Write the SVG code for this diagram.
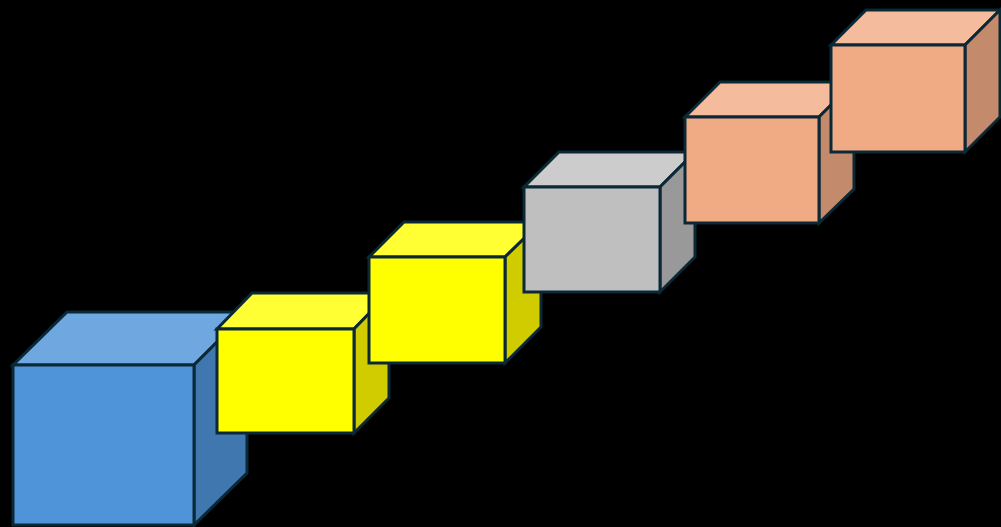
<svg xmlns="http://www.w3.org/2000/svg" width="1001" height="527" viewBox="0 0 1001 527">
<style>
  .e{stroke:#0a2836;stroke-width:3;stroke-linejoin:miter}
  .bF{fill:#4f94d8}.bT{fill:#6fa8e0}.bS{fill:#3f77ae}
  .yF{fill:#ffff00}.yT{fill:#ffff33}.yS{fill:#d0cc00}
  .gF{fill:#bfbfbf}.gT{fill:#cccccc}.gS{fill:#999999}
  .oF{fill:#f0aa84}.oT{fill:#f5bb9d}.oS{fill:#c48a6c}
</style>
<rect width="1001" height="527" fill="#000"/>
<g id="cube-blue">
  <polygon class="e bT" points="13,365 67,312 247,312 194,365"/>
  <polygon class="e bS" points="194,365 247,312 247,473 194,525"/>
  <rect class="e bF" x="13" y="365" width="181" height="160"/>
</g>
<g id="cube-yellow-1">
  <polygon class="e yT" points="217,329 252,293 389,293 354,329"/>
  <polygon class="e yS" points="354,329 389,293 389,398 354,433"/>
  <rect class="e yF" x="217" y="329" width="137" height="104"/>
</g>
<g id="cube-yellow-2">
  <polygon class="e yT" points="369,257 404,222 541,222 505,257"/>
  <polygon class="e yS" points="505,257 541,222 541,327 505,363"/>
  <rect class="e yF" x="369" y="257" width="136" height="106"/>
</g>
<g id="cube-gray">
  <polygon class="e gT" points="524,187 559,152 695,152 660,187"/>
  <polygon class="e gS" points="660,187 695,152 695,257 660,292"/>
  <rect class="e gF" x="524" y="187" width="136" height="105"/>
</g>
<g id="cube-orange-1">
  <polygon class="e oT" points="685,117 720,82 854,82 819,117"/>
  <polygon class="e oS" points="819,117 854,82 854,189 819,223"/>
  <rect class="e oF" x="685" y="117" width="134" height="106"/>
</g>
<g id="cube-orange-2">
  <polygon class="e oT" points="831,45 866,10 1000,10 965,45"/>
  <polygon class="e oS" points="965,45 1000,10 1000,117 965,152"/>
  <rect class="e oF" x="831" y="45" width="134" height="107"/>
</g>
<g id="connectors"/>
</svg>
